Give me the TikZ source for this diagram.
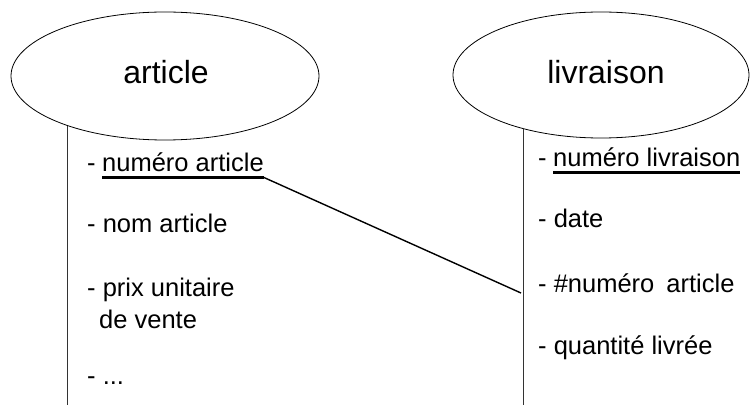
\documentclass[tikz,border=0pt]{standalone}
\usepackage{fontspec}
\setmainfont{Liberation Sans}
\usetikzlibrary{shapes.geometric}

\tikzset{
  entity/.style={draw, ellipse, line width=0.8pt, inner sep=0pt,
    font=\fontsize{32}{38}\selectfont},
  attr/.style={anchor=base west, inner sep=0pt, font=\fontsize{25.5}{31}\selectfont},
  lifeline/.style={line width=1.3pt, draw=black!80},
  keyline/.style={line width=2.2pt},
  link/.style={line width=1.4pt}
}

\begin{document}
\begin{tikzpicture}[x=1pt, y=-1pt]
  \useasboundingbox (0,0) rectangle (750,406);

  % entities
  \node[entity, minimum width=308pt, minimum height=128pt] (art) at (165,76) {};
  \node[entity, minimum width=296pt, minimum height=126pt] (liv) at (601,75) {};
  \node[anchor=base, inner sep=0pt, font=\fontsize{32}{38}\selectfont] (artT) at (166,84) {article};
  \node[anchor=base, inner sep=0pt, font=\fontsize{32}{38}\selectfont] (livT) at (606,84) {livraison};

  % attribute columns
  \coordinate (artEnd) at (69,405);
  \coordinate (livEnd) at (526,405);
  \draw[lifeline] (art.207.5) -- (art.207.5 |- artEnd);
  \draw[lifeline] (liv.215.9) -- (liv.215.9 |- livEnd);

  % attributes of article
  \node[attr] (a0) at (87,172) {-};
  \node[attr] (a1) at (102,172) {numéro article};
  \node[attr] (a2) at (87,233) {- nom article};
  \node[attr] (a3) at (87,296) {- prix unitaire};
  \node[attr] (a3b) at (99,328) {de vente};
  \node[attr] (a4) at (87,384) {- ...};

  % attributes of livraison
  \node[attr] (l0) at (538,167) {-};
  \node[attr] (l1) at (553,167) {numéro livraison};
  \node[attr] (l2) at (538,228) {- date};
  \node[attr] (l3) at (538,292) {- \#numéro\hspace{5pt} article};
  \node[attr] (l4) at (538,354) {- quantité livrée};

  % primary keys
  \coordinate (k1a) at ([yshift=-5.5pt]a1.base west);
  \coordinate (k1b) at ([yshift=-5.5pt]a1.base east);
  \coordinate (k2a) at ([yshift=-5.5pt]l1.base west);
  \coordinate (k2b) at ([yshift=-5.5pt]l1.base east);
  \draw[keyline] (k1a) -- (k1b);
  \draw[keyline] (k2a) -- (k2b);

  % foreign key reference
  \coordinate (fk) at (521,293);
  \draw[link] (k1b) -- (fk);
\end{tikzpicture}
\end{document}
